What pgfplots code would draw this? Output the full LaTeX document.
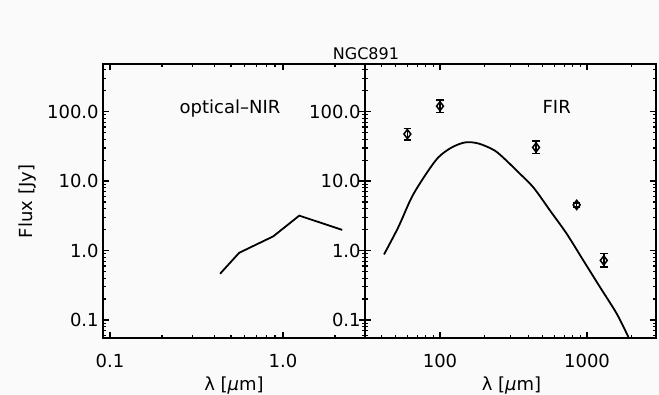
\documentclass[border=0pt]{standalone}
\usepackage{fontspec}
\setmainfont{DejaVu Sans}
\usepackage{pgfplots}
\pgfplotsset{compat=1.18}
\definecolor{bg}{RGB}{250,250,250}
\newcommand\labelfont{\fontsize{18}{22}\selectfont}

% shared look of the two SED panels
\pgfplotsset{every axis/.append style={
  scale only axis, height=274pt,
  tick align=inside, major tick length=6pt, minor tick length=3pt,
  line width=2pt,
  every tick/.append style={black, line width=1.2pt},
  tick label style={font=\labelfont},
  xticklabel style={anchor=base, yshift=-30pt},
  /pgf/number format/assume math mode=true,
}}

\begin{document}
\begin{tikzpicture}[every node/.style={font=\labelfont}]
\fill[bg] (0,0) rectangle (659pt,395pt);
\useasboundingbox (0,0) rectangle (659pt,395pt);

% optical / near-IR photometry
\begin{axis}[xmode=log, ymode=log,
  at={(103pt,57pt)}, anchor=south west, width=262pt,
  xmin=0.0911, xmax=2.98, ymin=0.055, ymax=485,
  ytick={0.1,1,10,100}, yticklabels={0.1,1.0,10.0,100.0},
  minor ytick={0.06,0.07,0.08,0.09,0.2,0.3,0.4,0.5,0.6,0.7,0.8,0.9,
               2,3,4,5,6,7,8,9,20,30,40,50,60,70,80,90,200,300,400},
  xtick={0.1,1}, xticklabels={0.1,1.0},
  minor xtick={0.2,0.3,0.4,0.5,0.6,0.7,0.8,0.9,2}]
\addplot[black, line width=1.8pt] coordinates {
  (0.433,0.463) (0.558,0.927) (0.879,1.60) (1.242,3.18) (2.20,1.98)};
\end{axis}

% far-IR / submm photometry with the dust model
\begin{axis}[xmode=log, ymode=log,
  at={(365pt,57pt)}, anchor=south west, width=291pt,
  xmin=30.9, xmax=2944, ymin=0.055, ymax=485,
  ytick={0.1,1,10,100}, yticklabels={0.1,1.0,10.0,100.0},
  minor ytick={0.06,0.07,0.08,0.09,0.2,0.3,0.4,0.5,0.6,0.7,0.8,0.9,
               2,3,4,5,6,7,8,9,20,30,40,50,60,70,80,90,200,300,400},
  xtick={100,1000}, xticklabels={100,1000},
  minor xtick={40,50,60,70,80,90,200,300,400,500,600,700,800,900,2000}]
\addplot[black, line width=1.8pt, smooth] coordinates {
  (41.6,0.877) (52.0,2.16) (64.2,5.83) (79.0,11.96) (97.3,21.9)
  (120.2,30.5) (147.9,36.0) (182.2,34.8) (236.8,27.3) (299.4,17.6)
  (332.6,14.1) (431.3,8.11) (560.3,3.76) (727.5,1.74) (944,0.718)
  (1225,0.297) (1592,0.123) (1910,0.0568)};
\addplot[black, only marks, mark=diamond, mark size=4.6pt,
  mark options={line width=1.5pt},
  error bars/.cd, y dir=both, y explicit,
  error bar style={line width=1.5pt},
  error mark options={rotate=90, mark size=3.8pt, line width=1.5pt}]
  coordinates {
  (60,47.5) += (0,10.0) -= (0,8.2)
  (100,120) += (0,27.6) -= (0,22.4)
  (450,30.5) += (0,7.0) -= (0,5.7)
  (850,4.54) += (0,0.31) -= (0,0.29)
  (1300,0.72) += (0,0.18) -= (0,0.14)};
\end{axis}

\node[anchor=base, font=\fontsize{16}{19}\selectfont] at (366pt,335.7pt) {NGC891};
\node[anchor=base] at (230pt,281pt) {optical\textendash NIR};
\node[anchor=base] at (556.7pt,281.7pt) {FIR};
\node[anchor=base, rotate=90] at (32pt,193.5pt) {Flux [Jy]};
\node[anchor=base] at (234pt,4pt) {λ [\textit{μ}m]};
\node[anchor=base] at (511.5pt,4pt) {λ [\textit{μ}m]};
\end{tikzpicture}
\end{document}
